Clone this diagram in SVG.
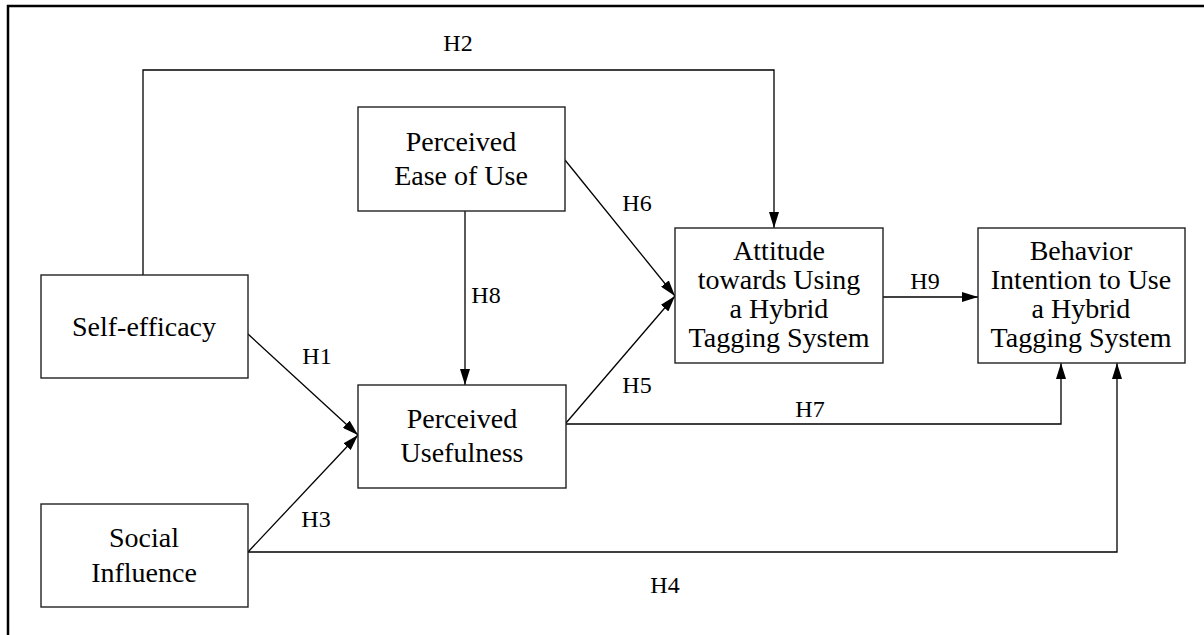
<svg xmlns="http://www.w3.org/2000/svg" width="1204" height="635" viewBox="0 0 1204 635">
<style>
.box{fill:#fff;stroke:#222;stroke-width:1.4}
.nt{font-family:"Liberation Serif","Times New Roman",serif;font-size:28px;fill:#000;text-anchor:middle}
.lb{font-family:"Liberation Serif","Times New Roman",serif;font-size:24px;fill:#000;text-anchor:middle}
.cn{fill:none;stroke:#000;stroke-width:1.3}
</style>
<defs>
<marker id="ah" viewBox="0 0 16 10" refX="16" refY="5" markerWidth="16" markerHeight="10" markerUnits="userSpaceOnUse" orient="auto">
<path d="M0,0 L16,5 L0,10 Z" fill="#000"/>
</marker>
</defs>
<rect x="0" y="0" width="1204" height="635" fill="#fff"/>
<rect x="8" y="6" width="1210" height="650" fill="none" stroke="#000" stroke-width="2.5"/>
<g id="connectors">
<polyline class="cn" points="143,275 143,70 774,70 774,228" marker-end="url(#ah)"/>
<line class="cn" x1="465" y1="211" x2="465" y2="385" marker-end="url(#ah)"/>
<line class="cn" x1="565" y1="160" x2="675" y2="296" marker-end="url(#ah)"/>
<line class="cn" x1="566" y1="423" x2="675" y2="296" marker-end="url(#ah)"/>
<line class="cn" x1="248" y1="334" x2="358" y2="435" marker-end="url(#ah)"/>
<line class="cn" x1="248" y1="552" x2="358" y2="435" marker-end="url(#ah)"/>
<line class="cn" x1="883" y1="297" x2="978" y2="297" marker-end="url(#ah)"/>
<polyline class="cn" points="566,424 1061,424 1061,363" marker-end="url(#ah)"/>
<polyline class="cn" points="248,552 1117,552 1117,363" marker-end="url(#ah)"/>
<text class="lb" x="458" y="51">H2</text>
<text class="lb" x="637" y="211">H6</text>
<text class="lb" x="486" y="303">H8</text>
<text class="lb" x="637" y="393">H5</text>
<text class="lb" x="925" y="289">H9</text>
<text class="lb" x="810" y="417">H7</text>
<text class="lb" x="317" y="364">H1</text>
<text class="lb" x="316" y="527">H3</text>
<text class="lb" x="665" y="593">H4</text>
</g>
<g id="self-efficacy">
<rect class="box" x="41" y="275" width="207" height="103"/>
<text class="nt" x="144" y="336">Self-efficacy</text>
</g>
<g id="perceived-ease-of-use">
<rect class="box" x="358" y="107" width="207" height="104"/>
<text class="nt" x="461" y="151">Perceived</text>
<text class="nt" x="461" y="185">Ease of Use</text>
</g>
<g id="perceived-usefulness">
<rect class="box" x="358" y="385" width="208" height="103"/>
<text class="nt" x="462" y="428">Perceived</text>
<text class="nt" x="462" y="462">Usefulness</text>
</g>
<g id="social-influence">
<rect class="box" x="41" y="504" width="207" height="103"/>
<text class="nt" x="144" y="547">Social</text>
<text class="nt" x="144" y="582">Influence</text>
</g>
<g id="attitude">
<rect class="box" x="675" y="228" width="208" height="135"/>
<text class="nt" x="779" y="260">Attitude</text>
<text class="nt" x="779" y="289">towards Using</text>
<text class="nt" x="779" y="318">a Hybrid</text>
<text class="nt" x="779" y="347">Tagging System</text>
</g>
<g id="behavior-intention">
<rect class="box" x="978" y="228" width="207" height="135"/>
<text class="nt" x="1081" y="260">Behavior</text>
<text class="nt" x="1081" y="289">Intention to Use</text>
<text class="nt" x="1081" y="318">a Hybrid</text>
<text class="nt" x="1081" y="347">Tagging System</text>
</g>
</svg>
